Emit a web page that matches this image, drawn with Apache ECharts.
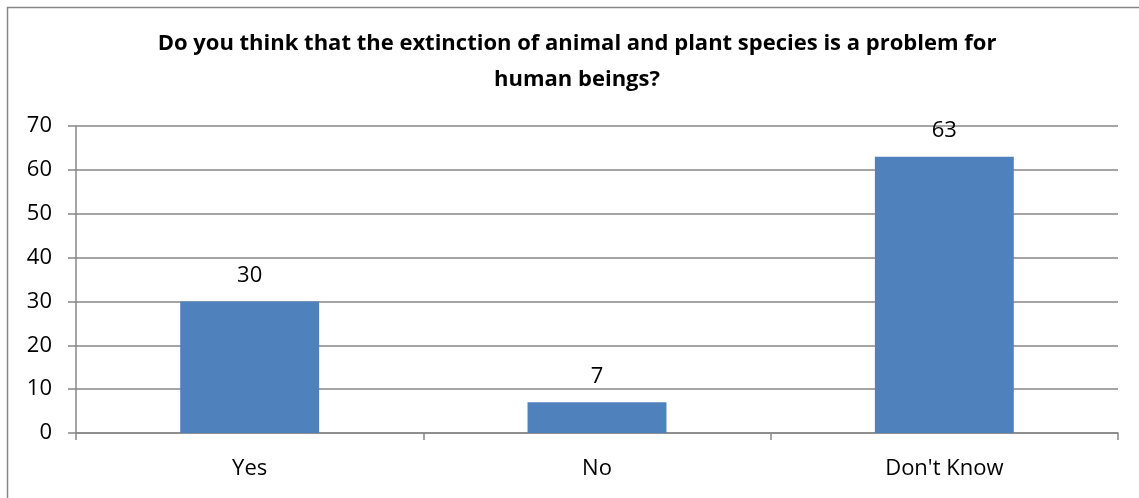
<!DOCTYPE html>
<html>
<head>
<meta charset="utf-8">
<script src="https://cdn.jsdelivr.net/npm/echarts@6/dist/echarts.min.js"></script>
<style>
html,body{margin:0;padding:0;background:#fff;}
#c{width:1139px;height:498px;}
</style>
</head>
<body>
<div id="c"></div>
<script>
const titleText = 'Do you think that the extinction of animal and plant species is a problem for\nhuman beings?';
const categories = ['Yes', 'No', "Don't Know"];
const values = [30, 7, 63];
const yTicks = {min: 0, max: 70, interval: 10};

const FONT = '"Open Sans", sans-serif';
const chart = echarts.init(document.getElementById('c'), null, {renderer: 'canvas'});
chart.setOption({
  animation: false,
  backgroundColor: '#fff',
  title: {
    text: titleText,
    left: 572,
    textAlign: 'center',
    top: 21,
    textStyle: {fontFamily: FONT, fontWeight: 'bold', fontSize: 22, color: '#000', lineHeight: 36}
  },
  graphic: [{
    type: 'rect', shape: {x: 7.5, y: 7.5, width: 2000, height: 2000},
    style: {fill: 'none', stroke: '#878787', lineWidth: 1.5}, silent: true
  }],
  grid: {left: 76, right: 21, top: 126, bottom: 65, containLabel: false},
  xAxis: {
    type: 'category',
    data: categories,
    axisLine: {lineStyle: {color: '#878787', width: 1.5}},
    axisTick: {show: true, length: 7, alignWithLabel: false, lineStyle: {color: '#878787', width: 1.5}},
    axisLabel: {fontFamily: FONT, fontSize: 22, color: '#000', margin: 25}
  },
  yAxis: {
    type: 'value',
    min: yTicks.min, max: yTicks.max, interval: yTicks.interval,
    axisLine: {show: true, lineStyle: {color: '#878787', width: 1.5}},
    axisTick: {show: true, length: 8, lineStyle: {color: '#878787', width: 1.5}},
    splitLine: {lineStyle: {color: '#878787', width: 1.5}},
    axisLabel: {fontFamily: FONT, fontSize: 22, color: '#000', margin: 24}
  },
  series: [{
    type: 'bar',
    data: values,
    barWidth: '40%',
    itemStyle: {color: '#4F81BD'},
    label: {show: true, position: 'top', distance: 15, fontFamily: FONT, fontSize: 22, color: '#000'}
  }]
});
</script>
</body>
</html>
